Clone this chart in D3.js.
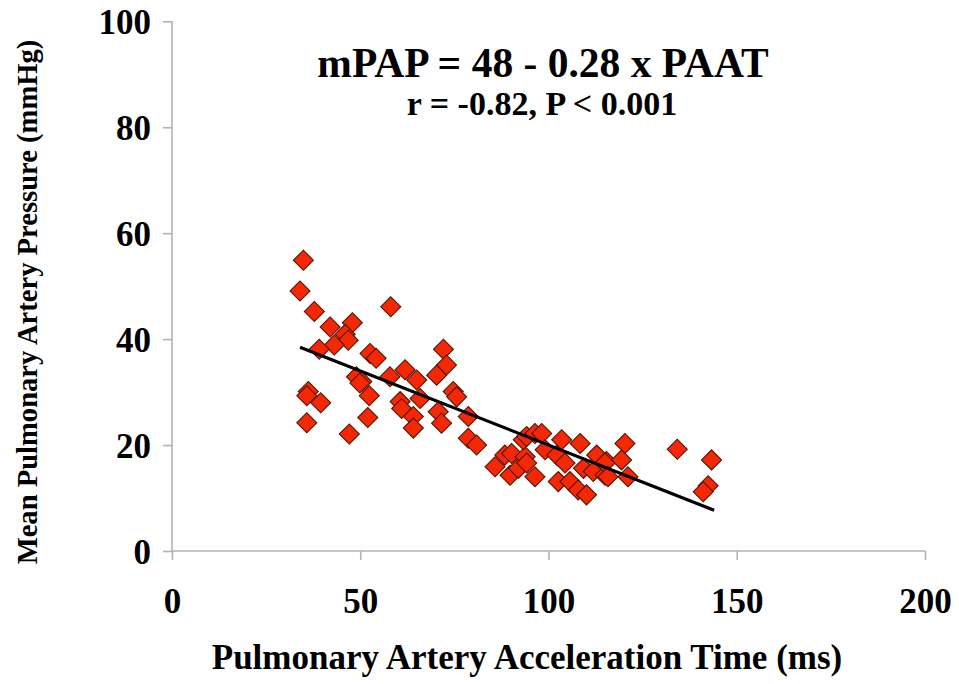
<!DOCTYPE html>
<html><head><meta charset="utf-8">
<script src="https://cdn.jsdelivr.net/npm/d3@7"></script>
<style>body{margin:0;background:#fff}svg{display:block}text{font-family:"Liberation Serif","Times New Roman",serif;font-weight:bold;fill:#000}</style>
</head><body><svg id="c" width="959" height="684"></svg>
<script>
const paat = [34.9,34,37.8,42,47.9,58.1,46,46.8,43.1,39.1,52.6,54.2,72.1,72.9,70.3,61.9,65,57.9,49,50.4,74.7,36.2,
  35.8,39.5,35.8,47.1,52.4,52,49.9,60.6,61,64.1,64.1,65.9,70.7,71.6,75.6,
  78.7,78.7,80.9,85.8,88.4,90.2,89.8,92,93.8,94.2,93.3,94.2,96.4,98.2,96.4,99.1,102.2,103.5,104.4,102.6,105.7,108.4,107.9,110.1,109.3,111.9,112.8,115,115.4,
  120.3,115,119.4,115.8,121.1,134.2,143.3,142.4,141.1];
const mpap = [54.9,49.1,45.2,42.3,43.1,46.1,40.9,39.8,38.9,38.1,37.3,36.4,38.1,35.1,33.2,34.2,32.3,32.9,32.9,32,30.1,30.1,
  29.3,28,24.2,22.1,29.3,25.2,31.7,28.2,26.9,25.4,23.2,28.8,26.3,24.1,29.1,
  25.4,21.3,20,15.9,18.1,18.4,14.3,15.6,17.8,16.6,21,21.6,22.2,22.2,14,19.1,18.1,21,16.6,13.1,13.1,20.3,11.5,10.6,15.6,15,18.1,14.3,16.9,
  20.3,16.6,17.2,14,14,19.2,17.2,12.3,11.2];
const xTicks = [0,50,100,150,200];
const yTicks = [0,20,40,60,80,100];
const fitIntercept = 48, fitSlope = -0.28, fitRange = [34,144];
const title = "mPAP = 48 - 0.28 x PAAT";
const subtitle = "r = -0.82, P < 0.001";
const xTitle = "Pulmonary Artery Acceleration Time (ms)";
const yTitle = "Mean Pulmonary Artery Pressure (mmHg)";

const svg = d3.select("#c");
const x = d3.scaleLinear().domain([0,200]).range([172,925]);
const y = d3.scaleLinear().domain([0,100]).range([551,21.3]);
const axisCol = "#b3b3b3";

const gx = svg.append("g").attr("transform","translate(0,551)")
  .call(d3.axisBottom(x).tickValues(xTicks).tickSize(9).tickSizeOuter(0).tickPadding(28));
const gy = svg.append("g").attr("transform","translate(172,0)")
  .call(d3.axisLeft(y).tickValues(yTicks).tickSize(9).tickSizeOuter(0).tickPadding(13));
[gx,gy].forEach(g=>{
  g.select(".domain").attr("stroke",axisCol).attr("stroke-width",1.6);
  g.selectAll(".tick line").attr("stroke",axisCol).attr("stroke-width",1.6);
  g.selectAll(".tick text").attr("fill","#000").style("font-size","35px")
   .style("font-family",'"Liberation Serif",serif').style("font-weight","bold");
});
gy.select(".domain").attr("d",`M0,${y(100)}V${y(0)}`);
gx.select(".domain").attr("d",`M${x(0)},0H${x(200)}`);
gy.selectAll(".tick text").attr("dy","0.35em").attr("x",-21);

const pts = paat.map((v,i)=>({x:v,y:mpap[i]}));
const sym = d3.symbol().type(d3.symbolSquare).size(200);
svg.append("g").selectAll("path").data(pts).join("path")
  .attr("d",sym)
  .attr("transform",d=>`translate(${x(d.x)},${y(d.y)}) rotate(45)`)
  .attr("fill","#f52805").attr("stroke","#561405").attr("stroke-width",1.1);

svg.append("line")
  .attr("x1",x(fitRange[0])).attr("y1",y(fitIntercept+fitSlope*fitRange[0]))
  .attr("x2",x(fitRange[1])).attr("y2",y(fitIntercept+fitSlope*fitRange[1]))
  .attr("stroke","#000").attr("stroke-width",3.2);

svg.append("text").attr("x",543).attr("y",77).attr("text-anchor","middle").style("font-size","41.5px").text(title);
svg.append("text").attr("x",542).attr("y",115).attr("text-anchor","middle").style("font-size","34px").text(subtitle);
svg.append("text").attr("x",527).attr("y",669).attr("text-anchor","middle").style("font-size","35px").text(xTitle);
svg.append("text").attr("transform","translate(37,302) rotate(-90)").attr("text-anchor","middle").style("font-size","28.6px").text(yTitle);
</script></body></html>
